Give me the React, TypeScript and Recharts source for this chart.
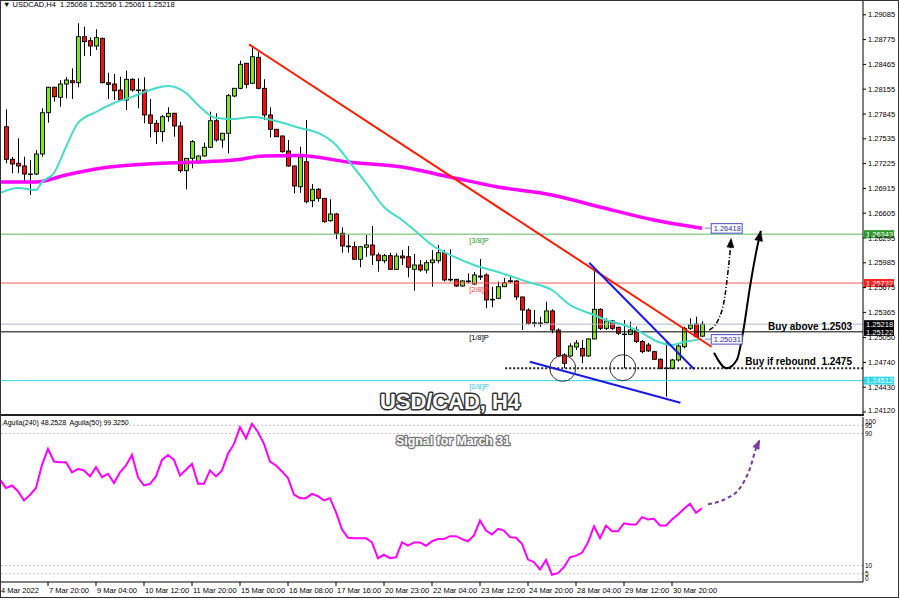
import React from 'react';
import { ComposedChart, Bar, Line, XAxis, YAxis, ReferenceLine, ReferenceDot } from 'recharts';

const FONT = '"Liberation Sans", Arial, sans-serif';

// ---------- data ----------
const FIRST_BAR = 1;
const OPEN = [
  1.27686,1.27279,1.27229,1.27195,1.27095,1.27095,1.27345,1.27861,1.28179,1.28054,
  1.28220,1.28261,1.28236,1.28811,1.28761,1.28695,1.28791,1.28236,1.28220,1.28145,
  1.28020,1.28279,1.28145,1.28145,1.27833,1.27729,1.27624,1.27811,1.27854,1.27695,
  1.27136,1.27291,1.27249,1.27320,1.27429,1.27761,1.27520,1.27604,1.28070,1.28166,
  1.28479,1.28229,1.28554,1.28166,1.27833,1.27654,1.27570,1.27383,1.27195,1.26936,
  1.27249,1.26761,1.26904,1.26791,1.26511,1.26595,1.26354,1.26195,1.26186,1.26029,
  1.26179,1.26208,1.26083,1.26011,1.26074,1.25904,1.26070,1.26061,1.25904,1.25958,
  1.25895,1.25986,1.26011,1.26111,1.25779,1.25779,1.25695,1.25749,1.25720,1.25808,
  1.25833,1.25529,1.25541,1.25686,1.25749,1.25758,1.25558,1.25395,1.25236,1.25229,
  1.25236,1.25383,1.25145,1.24833,1.24820,1.24933,1.24916,1.24820,1.25033,1.25404,
  1.25166,1.25258,1.25179,1.25091,1.25091,1.25145,1.25001,1.24958,1.24874,1.24779,
  1.24666,1.24666,1.24770,1.24936,1.25166,1.25220,1.25068,
];
const HIGH = [
  1.27904,1.27308,1.27541,1.27311,1.27270,1.27395,1.27916,1.28185,1.28186,1.28270,
  1.28304,1.28416,1.28979,1.28936,1.28804,1.28904,1.28801,1.28361,1.28345,1.28311,
  1.28386,1.28291,1.28291,1.28304,1.28033,1.27770,1.27833,1.27929,1.27861,1.27749,
  1.27295,1.27520,1.27325,1.27486,1.27874,1.27854,1.27611,1.28095,1.28170,1.28511,
  1.28483,1.28686,1.28624,1.28279,1.27929,1.27658,1.27576,1.27520,1.27201,1.27436,
  1.27770,1.26970,1.26920,1.26795,1.26779,1.26608,1.26429,1.26333,1.26249,1.26195,
  1.26333,1.26445,1.26111,1.26095,1.26111,1.26104,1.26145,1.26195,1.26095,1.26020,
  1.26020,1.26145,1.26208,1.26145,1.26154,1.25783,1.25770,1.25854,1.25870,1.26033,
  1.25854,1.25686,1.25749,1.25795,1.25833,1.25764,1.25561,1.25416,1.25395,1.25311,
  1.25499,1.25404,1.25166,1.24854,1.24979,1.25020,1.25020,1.25041,1.25895,1.25416,
  1.25291,1.25270,1.25186,1.25270,1.25249,1.25186,1.25020,1.24983,1.24886,1.24791,
  1.25001,1.24783,1.24979,1.25186,1.25291,1.25311,1.25256,
];
const LOW = [
  1.27229,1.27104,1.27104,1.27000,1.26833,1.27083,1.27311,1.27736,1.28000,1.27936,
  1.28041,1.28033,1.28179,1.28570,1.28570,1.28645,1.28229,1.28033,1.28020,1.28011,
  1.27895,1.28124,1.27916,1.27729,1.27554,1.27470,1.27499,1.27749,1.27561,1.27111,
  1.26904,1.27166,1.27220,1.27311,1.27426,1.27499,1.27424,1.27354,1.28054,1.28154,
  1.28166,1.28220,1.28154,1.27770,1.27554,1.27558,1.27361,1.27186,1.26854,1.26858,
  1.26729,1.26679,1.26749,1.26486,1.26499,1.26279,1.26111,1.26111,1.26020,1.25929,
  1.26061,1.25958,1.25874,1.25979,1.25895,1.25895,1.25958,1.25804,1.25636,1.25874,
  1.25854,1.25686,1.25979,1.25749,1.25749,1.25683,1.25683,1.25729,1.25708,1.25770,
  1.25416,1.25429,1.25529,1.25683,1.25729,1.25520,1.25145,1.25208,1.25186,1.25186,
  1.25229,1.25104,1.24811,1.24666,1.24811,1.24895,1.24729,1.24811,1.25029,1.25145,
  1.25145,1.25145,1.25083,1.24666,1.25083,1.24984,1.24854,1.24870,1.24770,1.24654,
  1.24311,1.24654,1.24749,1.24916,1.25145,1.25054,1.25061,
];
const CLOSE = [
  1.27279,1.27220,1.27195,1.27095,1.27089,1.27345,1.27861,1.28179,1.28061,1.28220,
  1.28270,1.28236,1.28811,1.28749,1.28695,1.28799,1.28236,1.28216,1.28136,1.28020,
  1.28279,1.28145,1.28139,1.27833,1.27729,1.27624,1.27811,1.27854,1.27695,1.27136,
  1.27291,1.27499,1.27320,1.27429,1.27761,1.27520,1.27604,1.28074,1.28166,1.28466,
  1.28216,1.28561,1.28166,1.27833,1.27654,1.27561,1.27374,1.27195,1.26945,1.27308,
  1.26749,1.26904,1.26791,1.26499,1.26595,1.26354,1.26195,1.26186,1.26029,1.26186,
  1.26208,1.26083,1.26011,1.26074,1.25904,1.26070,1.26045,1.25929,1.25958,1.25895,
  1.25986,1.26020,1.26111,1.25770,1.25770,1.25695,1.25758,1.25758,1.25833,1.25820,
  1.25520,1.25520,1.25686,1.25736,1.25761,1.25558,1.25395,1.25229,1.25229,1.25233,
  1.25383,1.25145,1.24820,1.24729,1.24945,1.24983,1.24820,1.25033,1.25404,1.25166,
  1.25258,1.25166,1.25104,1.25095,1.25145,1.25001,1.24874,1.24883,1.24779,1.24666,
  1.24670,1.24770,1.24945,1.25166,1.25208,1.25061,1.25218,
];

// moving averages (bar index, price)
const FAST_MA_BARS = [0,3,6,7,9,11,13,16,19,22,25,28,31,33,36,39,42,46,50,53,56,58,61,64,67,70,72,75,79,83,88,92,95,99,101,104,107,109,112,114,117];
const FAST_MA_VALUES = [1.26858,1.26920,1.26895,1.26995,1.27108,1.27433,1.27733,1.27870,1.27983,1.28058,1.28145,1.28195,1.28108,1.27958,1.27795,1.27783,1.27808,1.27758,1.27670,1.27608,1.27458,1.27270,1.26983,1.26683,1.26520,1.26333,1.26208,1.26083,1.25958,1.25870,1.25745,1.25645,1.25458,1.25333,1.25270,1.25208,1.25108,1.25020,1.24958,1.24995,1.25031];
const SLOW_MA_BARS = [0,6,11,17,22,28,33,39,44,50,58,67,75,83,92,100,109,117];
const SLOW_MA_VALUES = [1.26995,1.26995,1.27083,1.27170,1.27208,1.27233,1.27245,1.27270,1.27320,1.27326,1.27245,1.27183,1.27058,1.26933,1.26833,1.26683,1.26520,1.26418];

// Aguila oscillator, one value per bar from bar 0
const AGUILA = [
  62,57,58.5,55,49.4,52.8,57,71,80.7,73,
  72.6,72.6,66.5,68.6,67.6,64,69.6,63.5,65.6,60,
  66.5,70.6,77,63.5,58.5,59.5,64,74,77,74,
  64.5,68,71.6,59.5,59.5,67.6,64,67.6,77.7,83.7,
  93.8,87,95.9,90.8,83.7,73,70.6,67,63,53,
  50.8,50.8,53.4,52,49.4,50.8,42.3,31.8,26.8,26.5,
  26.5,26.5,24,14.4,16.5,14.4,15,24,22,24,
  24,22,24.7,26,26,27.8,27.8,26,24.7,28.2,
  37.3,31.2,28.8,32.2,31.2,27.2,26.8,23.1,13.6,12,
  7.6,13.4,4.4,5.4,9,15,16,17.7,24,33.8,
  26.5,34.2,30.8,30.8,35.6,34.8,34.8,39.3,37.9,38.3,
  34.2,34.2,37.9,40.9,44.4,47.4,41.9,44.7,
];

const PRICE_TICKS = [1.24120,1.24430,1.24740,1.25050,1.25365,1.25675,1.25985,1.26295,1.26605,1.26915,1.27225,1.27535,1.27845,1.28155,1.28465,1.28775,1.29085];
const X_TICK_BARS = [0,8,16,24,32,40,48,56,64,72,80,88,96,104,112];
const X_TICK_LABELS = ['4 Mar 2022','7 Mar 20:00','9 Mar 04:00','10 Mar 12:00','11 Mar 20:00','15 Mar 00:00','16 Mar 08:00','17 Mar 16:00','20 Mar 23:00','22 Mar 04:00','23 Mar 12:00','24 Mar 20:00','28 Mar 04:00','29 Mar 12:00','30 Mar 20:00'];
const IND_TICKS = [0,5,10,90,95,100];
const IND_LEVELS = [95,90,10,5];

// Murrey levels and price marks
const LEVEL_PRICES = [1.26343, 1.25732, 1.25122, 1.24512];
const LEVEL_NAMES = ['[3/8]P', '[2/8]P', '[1/8]P', '[0/8]P'];
const BID_PRICE = 1.25218;
const SUPPORT_PRICE = 1.24666;
const SLOW_MA_LAST = 1.26418;
const FAST_MA_LAST = 1.25031;

// drawn objects (bar index, price)
const RED_TREND = [[41.5, 1.28716], [118.6, 1.24936]];
const BLUE_UPPER = [[98.2, 1.25986], [115.7, 1.24654]];
const BLUE_LOWER = [[88.3, 1.24749], [113.4, 1.24236]];
const SUPPORT_START = 84.2;
const CIRCLES = [[93.8, 1.24666], [103.8, 1.24674]];
const SOLID_ARROW_BARS = [119.0, 121.1, 122.8, 123.9, 125.0, 126.1, 126.8];
const SOLID_ARROW_PRICES = [1.24860, 1.24666, 1.24770, 1.25145, 1.25686, 1.26145, 1.26384];
const DASH_ARROW_BARS = [118.2, 119.7, 120.8, 121.3, 121.7, 121.85];
const DASH_ARROW_PRICES = [1.25145, 1.25270, 1.25561, 1.25854, 1.26145, 1.26290];
const IND_ARROW_BARS = [118.0, 121.1, 123.3, 125.0, 126.1, 126.6];
const IND_ARROW_VALUES = [47.1, 50.7, 56.8, 68.9, 82.0, 86.1];

// ---------- rows built for the library ----------
const CANDLES = OPEN.map((o, k) => ({ i: k + FIRST_BAR, o, h: HIGH[k], l: LOW[k], c: CLOSE[k] }));
const FAST_ROWS = FAST_MA_BARS.map((i, k) => ({ i, p: FAST_MA_VALUES[k] }));
const SLOW_ROWS = SLOW_MA_BARS.map((i, k) => ({ i, p: SLOW_MA_VALUES[k] }));
const AGUILA_ROWS = AGUILA.map((v, i) => ({ i, v }));
const SOLID_ROWS = SOLID_ARROW_BARS.map((i, k) => ({ i, p: SOLID_ARROW_PRICES[k] }));
const DASH_ROWS = DASH_ARROW_BARS.map((i, k) => ({ i, p: DASH_ARROW_PRICES[k] }));
const IND_ARROW_ROWS = IND_ARROW_BARS.map((i, k) => ({ i, v: IND_ARROW_VALUES[k] }));

const X_DOMAIN: [number, number] = [0, 143.833];
const PRICE_DOMAIN: [number, number] = [1.24095, 1.2927];

// ---------- shapes ----------
const Candle = (props: any) => {
  const { x, y, width, height, payload } = props;
  if (!payload || x == null || y == null) return <g />;
  const top = Math.min(y, y + height);
  const bh = Math.abs(height);
  const span = payload.h - payload.l || 1e-9;
  const yOf = (v: number) => top + ((payload.h - v) / span) * bh;
  const cx = Math.round(x + width / 2);
  const up = payload.c >= payload.o;
  const bt = yOf(Math.max(payload.o, payload.c));
  const bb = yOf(Math.min(payload.o, payload.c));
  return (
    <g>
      <line x1={cx + 0.5} x2={cx + 0.5} y1={top} y2={top + bh} stroke="#000" strokeWidth={1} />
      <rect x={cx - 1.5} y={bt} width={4} height={Math.max(bb - bt, 0.6)} fill={up ? '#86e21a' : '#f01010'} stroke="#000" strokeWidth={0.9} />
    </g>
  );
};

type TOpt = { anchor?: 'start' | 'middle' | 'end'; dy?: number; size?: number; color?: string; weight?: any; stroke?: string; sw?: number; len?: number };
const mkText = (text: string, o: TOpt) => (p: any) => (
  <text
    x={p.cx}
    y={p.cy + (o.dy ?? 0)}
    textAnchor={o.anchor ?? 'start'}
    fontSize={o.size ?? 7.5}
    fontFamily={FONT}
    fill={o.color ?? '#000'}
    fontWeight={o.weight ?? 'normal'}
    stroke={o.stroke}
    strokeWidth={o.sw}
    strokeLinejoin="round"
    paintOrder="stroke"
    textLength={o.len}
    lengthAdjust={o.len ? 'spacingAndGlyphs' : undefined}
    style={{ whiteSpace: 'pre' }}
  >
    {text}
  </text>
);

const mkAxisTag = (text: string, bg: string) => (p: any) => (
  <g>
    <rect x={p.cx + 1} y={p.cy - 4} width={30} height={8} fill={bg} />
    <text x={p.cx + 3} y={p.cy + 2.7} fontSize={7.5} fontFamily={FONT} fill="#fff">{text}</text>
  </g>
);

const mkBlueTag = (text: string) => (p: any) => (
  <g>
    <line x1={p.cx - 6} x2={p.cx} y1={p.cy} y2={p.cy} stroke="#8080c0" strokeWidth={1} />
    <rect x={p.cx + 0.5} y={p.cy - 4.5} width={31} height={9.5} fill="#fff" stroke="#4a4ad0" strokeWidth={1} />
    <text x={p.cx + 3} y={p.cy + 3} fontSize={7.5} fontFamily={FONT} fill="#2a2ab0">{text}</text>
  </g>
);

const circleShape = (p: any) => <circle cx={p.cx} cy={p.cy} r={13} fill="none" stroke="#333" strokeWidth={1} />;

function arrowDot(color: string, total: number, len = 9, wid = 7) {
  let prev: { x: number; y: number } | null = null;
  return (props: any) => {
    const { cx, cy, index } = props;
    if (index < total - 1) {
      prev = { x: cx, y: cy };
      return <g key={`ad${index}`} />;
    }
    const a = prev ? Math.atan2(cy - prev.y, cx - prev.x) : -Math.PI / 2;
    const bx = cx - len * Math.cos(a);
    const by = cy - len * Math.sin(a);
    const nx = -Math.sin(a) * (wid / 2);
    const ny = Math.cos(a) * (wid / 2);
    const pts = `${cx},${cy} ${bx + nx},${by + ny} ${bx - nx},${by - ny}`;
    return <polygon key={`ad${index}`} points={pts} fill={color} stroke={color} strokeWidth={0.5} />;
  };
}

const PriceTick = (props: any) => {
  const { x, y, payload } = props;
  const v = payload.value;
  const dy = v === PRICE_TICKS[0] ? -1.5 : 0;
  return (
    <text x={x} y={y + dy + 2.6} fontSize={7.5} fontFamily={FONT} fill="#000" textAnchor="start">{v.toFixed(5)}</text>
  );
};

const XTick = (props: any) => {
  const { x, y, payload } = props;
  const k = X_TICK_BARS.indexOf(payload.value);
  return (
    <text x={x + 1} y={y + 6} fontSize={7.5} fontFamily={FONT} fill="#000" textAnchor="start">
      {k >= 0 ? X_TICK_LABELS[k] : ''}
    </text>
  );
};

const IndTick = (props: any) => {
  const { x, y, payload } = props;
  const v = payload.value;
  const dy = v === 100 ? 4 : v === 0 ? -4 : 0;
  return (
    <text x={x} y={y + dy + 2.5} fontSize={6.5} fontFamily={FONT} fill="#000" textAnchor="start">{v}</text>
  );
};

const LEVEL_STYLE = [
  { line: '#5cb85c', tag: '#2e9a2e', text: '#2e9a2e' },
  { line: '#ff5a5a', tag: '#ff1e1e', text: '#ff3a3a' },
  { line: '#000000', tag: '#000000', text: '#000000' },
  { line: '#2fdcef', tag: '#2fd8ec', text: '#2fc4e6' },
];

export default function App() {
  const solidDot = arrowDot('#000', SOLID_ROWS.length, 10, 8);
  const dashDot = arrowDot('#000', DASH_ROWS.length, 9, 7);
  const indDot = arrowDot('#7a3aa0', IND_ARROW_ROWS.length, 9, 7);

  return (
    <div style={{ position: 'absolute', left: 0, top: 0, width: 900, height: 600, background: '#fff', overflow: 'hidden', fontFamily: FONT }}>
      <div style={{ position: 'absolute', left: 0, top: 0 }}>
        <ComposedChart width={900} height={414} data={CANDLES} margin={{ top: 0, right: 0, left: 0, bottom: 0 }} style={{ overflow: 'visible' }}>
          <XAxis dataKey="i" type="number" domain={X_DOMAIN} allowDataOverflow hide />
          <YAxis
            orientation="right"
            type="number"
            domain={PRICE_DOMAIN}
            allowDataOverflow
            ticks={PRICE_TICKS}
            interval={0}
            width={37}
            tickSize={3}
            tickMargin={2}
            tick={(p: any) => <PriceTick {...p} />}
            axisLine={{ stroke: '#000' }}
            tickLine={{ stroke: '#000' }}
          />
          {LEVEL_PRICES.map((p, k) => (
            <ReferenceLine key={`lv${k}`} y={p} stroke={LEVEL_STYLE[k].line} strokeWidth={1} ifOverflow="visible" />
          ))}
          <ReferenceLine y={BID_PRICE} stroke="#b4bcc4" strokeWidth={1} ifOverflow="visible" />
          {LEVEL_PRICES.map((p, k) => (
            <ReferenceDot key={`ln${k}`} x={78.2} y={p} r={1} ifOverflow="visible" shape={mkText(LEVEL_NAMES[k], { dy: 8.5, color: LEVEL_STYLE[k].text, size: 7.5 })} />
          ))}
          <ReferenceLine
            segment={[{ x: SUPPORT_START, y: SUPPORT_PRICE }, { x: X_DOMAIN[1], y: SUPPORT_PRICE }]}
            stroke="#222"
            strokeWidth={2}
            strokeDasharray="2 2"
            ifOverflow="visible"
          />
          <Line data={SLOW_ROWS} dataKey="p" type="monotone" stroke="#ff00ff" strokeWidth={3.5} dot={false} activeDot={false} isAnimationActive={false} />
          <Line data={FAST_ROWS} dataKey="p" type="monotone" stroke="#45dccb" strokeWidth={2} dot={false} activeDot={false} isAnimationActive={false} />
          <Bar dataKey={(d: any) => [d.l, d.h]} barSize={4} shape={Candle} isAnimationActive={false} />
          <ReferenceLine segment={[{ x: RED_TREND[0][0], y: RED_TREND[0][1] }, { x: RED_TREND[1][0], y: RED_TREND[1][1] }]} stroke="#ff1a00" strokeWidth={2} ifOverflow="visible" />
          <ReferenceLine segment={[{ x: BLUE_UPPER[0][0], y: BLUE_UPPER[0][1] }, { x: BLUE_UPPER[1][0], y: BLUE_UPPER[1][1] }]} stroke="#1a1ae6" strokeWidth={2} ifOverflow="visible" />
          <ReferenceLine segment={[{ x: BLUE_LOWER[0][0], y: BLUE_LOWER[0][1] }, { x: BLUE_LOWER[1][0], y: BLUE_LOWER[1][1] }]} stroke="#1a1ae6" strokeWidth={2} ifOverflow="visible" />
          {CIRCLES.map((c, k) => (
            <ReferenceDot key={`c${k}`} x={c[0]} y={c[1]} r={13} ifOverflow="visible" shape={circleShape} />
          ))}
          <Line data={DASH_ROWS} dataKey="p" type="monotone" stroke="#000" strokeWidth={1.5} strokeDasharray="5 2 1 2" dot={dashDot} activeDot={false} isAnimationActive={false} />
          <Line data={SOLID_ROWS} dataKey="p" type="monotone" stroke="#000" strokeWidth={2} dot={solidDot} activeDot={false} isAnimationActive={false} />
          <ReferenceDot x={118.45} y={SLOW_MA_LAST} r={1} ifOverflow="visible" shape={mkBlueTag(SLOW_MA_LAST.toFixed(5))} />
          <ReferenceDot x={118.45} y={FAST_MA_LAST} r={1} ifOverflow="visible" shape={mkBlueTag(FAST_MA_LAST.toFixed(5))} />
          <ReferenceDot x={142} y={1.25186} r={1} ifOverflow="visible" shape={mkText('Buy above 1.2503', { anchor: 'end', dy: 3.6, size: 10, weight: 'bold' })} />
          <ReferenceDot x={142} y={1.24751} r={1} ifOverflow="visible" shape={mkText('Buy if rebound  1.2475', { anchor: 'end', dy: 3.6, size: 10, weight: 'bold' })} />
          <ReferenceDot x={75} y={1.24245} r={1} ifOverflow="visible" shape={mkText('USD/CAD, H4', { anchor: 'middle', dy: 7, size: 22, weight: 'bold', color: '#fff', stroke: '#333', sw: 3, len: 140 })} />
          {LEVEL_PRICES.map((p, k) => (
            <ReferenceDot key={`tg${k}`} x={X_DOMAIN[1]} y={p} r={1} ifOverflow="visible" shape={mkAxisTag(p.toFixed(5), LEVEL_STYLE[k].tag)} />
          ))}
          <ReferenceDot x={X_DOMAIN[1]} y={BID_PRICE} r={1} ifOverflow="visible" shape={mkAxisTag(BID_PRICE.toFixed(5), '#000')} />
        </ComposedChart>
      </div>

      <div style={{ position: 'absolute', left: 3, top: 0, fontSize: 7.5, lineHeight: '10px', whiteSpace: 'pre', color: '#000' }}>
        {'▼ USDCAD,H4  1.25068 1.25256 1.25061 1.25218'}
      </div>

      <div style={{ position: 'absolute', left: 0, top: 414, width: 864, height: 2, background: '#222' }} />

      <div style={{ position: 'absolute', left: 0, top: 417 }}>
        <ComposedChart width={900} height={181} data={AGUILA_ROWS} margin={{ top: 0, right: 0, left: 0, bottom: 0 }}>
          <XAxis
            dataKey="i"
            type="number"
            domain={X_DOMAIN}
            allowDataOverflow
            ticks={X_TICK_BARS}
            interval={0}
            height={16}
            tickSize={4}
            tickMargin={1}
            tick={(p: any) => <XTick {...p} />}
            axisLine={{ stroke: '#000' }}
            tickLine={{ stroke: '#000' }}
          />
          <YAxis
            orientation="right"
            type="number"
            domain={[0, 100]}
            allowDataOverflow
            ticks={IND_TICKS}
            interval={0}
            width={37}
            tickSize={0}
            tickMargin={2}
            tick={(p: any) => <IndTick {...p} />}
            axisLine={{ stroke: '#000' }}
          />
          {IND_LEVELS.map((v) => (
            <ReferenceLine key={`il${v}`} y={v} stroke="#c4c4c4" strokeDasharray="2 2" ifOverflow="visible" />
          ))}
          <Line dataKey="v" type="linear" stroke="#ff00ff" strokeWidth={2} dot={false} activeDot={false} isAnimationActive={false} />
          <Line data={IND_ARROW_ROWS} dataKey="v" type="monotone" stroke="#7a3aa0" strokeWidth={2} strokeDasharray="4 3" dot={indDot} activeDot={false} isAnimationActive={false} />
          <ReferenceDot x={75.5} y={86} r={1} ifOverflow="visible" shape={mkText('Signal for March 31', { anchor: 'middle', dy: 4.5, size: 13, weight: 'bold', color: '#fff', stroke: '#777', sw: 2.5, len: 114 })} />
        </ComposedChart>
      </div>

      <div style={{ position: 'absolute', left: 3, top: 418, fontSize: 7, lineHeight: '10px', whiteSpace: 'pre', color: '#000' }}>
        {'Aguila(240) 48.2528  Aguila(50) 99.3250'}
      </div>

      <div style={{ position: 'absolute', left: 0, top: 0, width: 899, height: 598, border: '1px solid #333', boxSizing: 'border-box', pointerEvents: 'none' }} />
    </div>
  );
}
